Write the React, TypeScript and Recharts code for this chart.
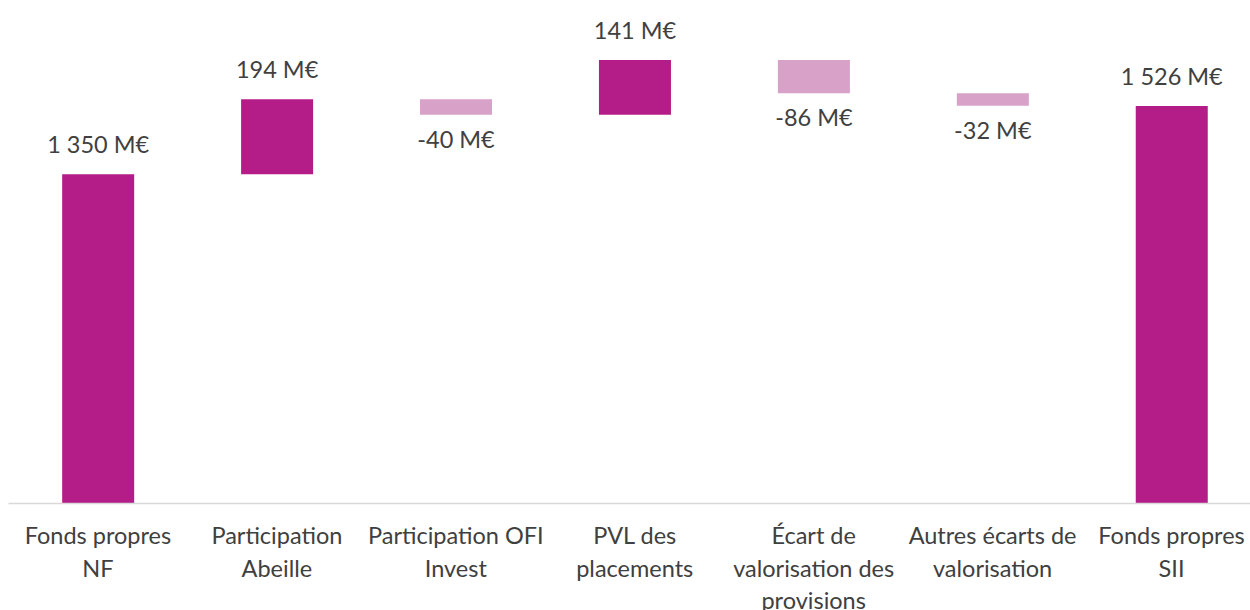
import React from "react";
import { BarChart, Bar, XAxis, YAxis, Cell, LabelList } from "recharts";

const categories = [
  "Fonds propres\nNF",
  "Participation\nAbeille",
  "Participation OFI\nInvest",
  "PVL des\nplacements",
  "Écart de\nvalorisation des\nprovisions",
  "Autres écarts de\nvalorisation",
  "Fonds propres\nSII",
];
const values = [1350, 194, -40, 141, -86, -32, 1526];
const isTotal = [true, false, false, false, false, false, true];
const Y_DOMAIN: [number, number] = [500, 1800];

const DARK = "#B41C87";
const LIGHT = "#D8A1C8";
const TEXT = "#404040";
const FONT = "Lato, sans-serif";
const FS = 23.5;

let running = 0;
const data = categories.map((name, i) => {
  let range: [number, number];
  if (isTotal[i]) {
    range = [Y_DOMAIN[0], values[i]];
    running = values[i];
  } else {
    const start = running;
    const end = running + values[i];
    range = [Math.min(start, end), Math.max(start, end)];
    running = end;
  }
  return { name, range, value: values[i] };
});

const fmt = (v: number) => {
  const s = String(Math.abs(v)).replace(/\B(?=(\d{3})+(?!\d))/g, " ");
  return (v < 0 ? "-" : "") + s + " M€";
};

const renderLabel = (props: any) => {
  const { x, y, width, height, value } = props;
  const top = Math.min(y, y + height);
  const bottom = Math.max(y, y + height);
  const cx = x + width / 2;
  const neg = value < 0;
  return (
    <text
      x={cx}
      y={neg ? bottom + 33 : top - 21}
      textAnchor="middle"
      fill={TEXT}
      fontFamily={FONT}
      fontSize={FS}
    >
      {fmt(value)}
    </text>
  );
};

const Tick = (props: any) => {
  const { x, y, payload } = props;
  const lines = String(payload.value).split("\n");
  return (
    <g>
      {lines.map((l, i) => (
        <text
          key={i}
          x={x}
          y={y + 40.5 + i * 32.5}
          textAnchor="middle"
          fill={TEXT}
          fontFamily={FONT}
          fontSize={FS}
        >
          {l}
        </text>
      ))}
    </g>
  );
};

export default function App() {
  return (
    <div
      style={{
        position: "absolute",
        left: 0,
        top: 0,
        width: 1250,
        height: 610,
        overflow: "hidden",
        background: "#fff",
      }}
    >
      <BarChart
        width={1261}
        height={610}
        data={data}
        margin={{ top: 0, right: 0, bottom: 0, left: 8.5 }}
        barCategoryGap="30%"
      >
        <XAxis
          dataKey="name"
          axisLine={{ stroke: "#D9D9D9", strokeWidth: 1.5 }}
          tickLine={false}
          tickSize={0}
          tickMargin={0}
          height={106.5}
          interval={0}
          tick={<Tick />}
        />
        <YAxis hide domain={Y_DOMAIN} allowDataOverflow />
        <Bar dataKey="range" isAnimationActive={false}>
          {data.map((d, i) => (
            <Cell key={i} fill={d.value < 0 ? LIGHT : DARK} />
          ))}
          <LabelList dataKey="value" content={renderLabel} />
        </Bar>
      </BarChart>
    </div>
  );
}
